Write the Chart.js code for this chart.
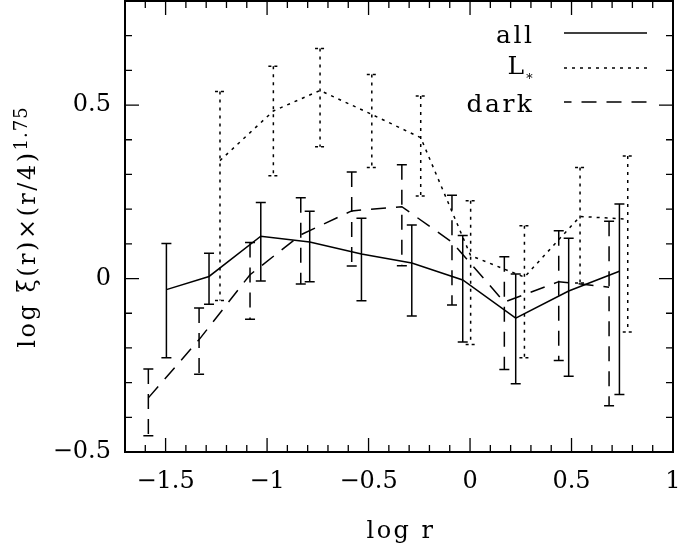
<!DOCTYPE html>
<html><head><meta charset="utf-8">
<script src="https://cdn.jsdelivr.net/npm/chart.js@4.4.1/dist/chart.umd.min.js"></script>
<style>html,body{margin:0;padding:0;background:#fff;}#wrap{width:678px;height:552px;}</style>
</head><body><div id="wrap"><canvas id="c" width="678" height="552"></canvas></div>
<script>
// ---- data ----
const seriesNames = ["all", "L∗", "dark"];

const xAll  = [-1.496, -1.286, -1.031, -0.790, -0.535, -0.287, -0.036, 0.225, 0.486, 0.736];
const yAll  = [-0.032, 0.006, 0.122, 0.105, 0.071, 0.045, -0.004, -0.114, -0.036, 0.021];
const hiAll = [0.101, 0.073, 0.219, 0.194, 0.174, 0.154, 0.124, 0.013, 0.116, 0.215];
const loAll = [-0.228, -0.074, -0.007, -0.009, -0.064, -0.108, -0.183, -0.303, -0.282, -0.334];

const xLs  = [-1.232, -0.969, -0.739, -0.484, -0.243, 0.003, 0.268, 0.542, 0.777];
const yLs  = [0.340, 0.483, 0.542, 0.473, 0.406, 0.066, 0.004, 0.179, 0.171];
const hiLs = [0.539, 0.612, 0.663, 0.588, 0.526, 0.224, 0.152, 0.320, 0.353];
const loLs = [-0.063, 0.296, 0.380, 0.320, 0.238, -0.190, -0.228, -0.013, -0.154];

const xDark  = [-1.585, -1.335, -1.084, -0.834, -0.583, -0.336, -0.089, 0.169, 0.437, 0.685];
const yDark  = [-0.344, -0.176, 0.011, 0.126, 0.195, 0.207, 0.105, -0.068, -0.009, -0.025];
const hiDark = [-0.261, -0.085, 0.104, 0.233, 0.307, 0.328, 0.240, 0.063, 0.138, 0.165];
const loDark = [-0.453, -0.276, -0.117, -0.016, 0.036, 0.037, -0.076, -0.262, -0.236, -0.367];

const xTickValues = [-1.5, -1, -0.5, 0, 0.5, 1];
const xTickLabels = ["−1.5", "−1", "−0.5", "0", "0.5", "1"];
const yTickValues = [-0.5, 0, 0.5];
const yTickLabels = ["−0.5", "0", "0.5"];
const xTitle = "log r";
const yTitleMain = "log ξ(r)×(r/4)";
const yTitleSup = "1.75";

const X_MIN = -1.7, X_MAX = 1.0, Y_MIN = -0.5, Y_MAX = 0.8;
const FONT = "'DejaVu Serif', serif";

function pts(xs, ys) { return xs.map((x, i) => ({ x: x, y: ys[i] })); }

const dashStyles = [[], [3, 5], [15, 10]];

const errorBars = {
  id: 'errorBars',
  afterDatasetsDraw(chart) {
    const ctx = chart.ctx, xs = chart.scales.x, ys = chart.scales.y;
    chart.data.datasets.forEach((ds, d) => {
      ctx.save();
      ctx.strokeStyle = '#000';
      ctx.lineWidth = 1.5;
      ds.data.forEach((p, i) => {
        const px = xs.getPixelForValue(p.x);
        const pt = ys.getPixelForValue(ds.errHi[i]);
        const pb = ys.getPixelForValue(ds.errLo[i]);
        ctx.setLineDash(ds.borderDash || []);
        ctx.beginPath();
        ctx.moveTo(px, pt); ctx.lineTo(px, pb);
        ctx.stroke();
        ctx.setLineDash(d === 1 ? [3, 3] : []);
        ctx.beginPath();
        ctx.moveTo(px - 5, pt); ctx.lineTo(px + 5, pt);
        ctx.moveTo(px - 5, pb); ctx.lineTo(px + 5, pb);
        ctx.stroke();
      });
      ctx.restore();
    });
  }
};

function setSpacing(ctx, px) { if ('letterSpacing' in ctx) ctx.letterSpacing = px + 'px'; }

const frameTicks = {
  id: 'frameTicks',
  afterDraw(chart) {
    const ctx = chart.ctx, a = chart.chartArea, xs = chart.scales.x, ys = chart.scales.y;
    ctx.save();
    ctx.strokeStyle = '#000';
    ctx.lineWidth = 2;
    ctx.strokeRect(a.left, a.top, a.right - a.left, a.bottom - a.top);
    ctx.lineWidth = 1.3;
    ctx.beginPath();
    for (let k = Math.round(X_MIN * 10); k <= Math.round(X_MAX * 10); k++) {
      const v = k / 10, px = xs.getPixelForValue(v);
      const L = (k % 5 === 0) ? 14 : 7;
      ctx.moveTo(px, a.bottom); ctx.lineTo(px, a.bottom - L);
      ctx.moveTo(px, a.top); ctx.lineTo(px, a.top + L);
    }
    for (let k = Math.round(Y_MIN * 10); k <= Math.round(Y_MAX * 10); k++) {
      const v = k / 10, py = ys.getPixelForValue(v);
      const L = (k % 5 === 0) ? 14 : 7;
      ctx.moveTo(a.left, py); ctx.lineTo(a.left + L, py);
      ctx.moveTo(a.right, py); ctx.lineTo(a.right - L, py);
    }
    ctx.stroke();

    // axis titles
    ctx.fillStyle = '#000';
    ctx.font = '24px ' + FONT;
    ctx.textAlign = 'center';
    ctx.textBaseline = 'alphabetic';
    setSpacing(ctx, 2.5);
    ctx.fillText(xTitle, (a.left + a.right) / 2 + 2, 538);

    ctx.save();
    ctx.translate(35, 227);
    ctx.rotate(-Math.PI / 2);
    ctx.font = '24px ' + FONT;
    setSpacing(ctx, 2.5);
    const w1 = ctx.measureText(yTitleMain).width;
    ctx.font = '18px ' + FONT;
    setSpacing(ctx, 1);
    const w2 = ctx.measureText(yTitleSup).width;
    const start = -(w1 + w2) / 2;
    ctx.textAlign = 'left';
    ctx.font = '24px ' + FONT;
    setSpacing(ctx, 2.5);
    ctx.fillText(yTitleMain, start, 0);
    ctx.font = '18px ' + FONT;
    setSpacing(ctx, 1);
    ctx.fillText(yTitleSup, start + w1, -8);
    ctx.restore();

    // legend
    const rows = [33, 68, 102];
    const base = [10, 6, 10];
    const sp = 2.5;
    chart.data.datasets.forEach((ds, i) => {
      const y = rows[i];
      ctx.font = '25px ' + FONT;
      ctx.textAlign = 'right';
      ctx.textBaseline = 'alphabetic';
      setSpacing(ctx, sp);
      const lbl = ds.label;
      if (lbl.endsWith('∗')) {
        ctx.fillText(lbl.slice(0, -1), 524 + sp, y + base[i]);
        ctx.font = '13px ' + FONT;
        ctx.textAlign = 'left';
        setSpacing(ctx, 0);
        ctx.fillText('∗', 525, y + base[i] + 6);
      } else {
        ctx.fillText(lbl, 532 + sp, y + base[i]);
      }
      setSpacing(ctx, 0);
      ctx.lineWidth = 1.5;
      ctx.setLineDash(ds.borderDash || []);
      ctx.lineDashOffset = (i === 2) ? 7.5 : 0;
      ctx.beginPath();
      ctx.moveTo(564, y); ctx.lineTo(647, y);
      ctx.stroke();
      ctx.setLineDash([]);
      ctx.lineDashOffset = 0;
    });
    ctx.restore();
  }
};

const datasets = [
  { label: seriesNames[0], data: pts(xAll, yAll), errHi: hiAll, errLo: loAll, borderDash: dashStyles[0] },
  { label: seriesNames[1], data: pts(xLs, yLs), errHi: hiLs, errLo: loLs, borderDash: dashStyles[1] },
  { label: seriesNames[2], data: pts(xDark, yDark), errHi: hiDark, errLo: loDark, borderDash: dashStyles[2] }
].map(d => Object.assign({
  showLine: true, borderColor: '#000', backgroundColor: '#000', borderWidth: 1.5,
  pointRadius: 0, fill: false, tension: 0
}, d));

function noPad(s) { s.paddingTop = 0; s.paddingBottom = 0; s.paddingLeft = 0; s.paddingRight = 0; }

new Chart(document.getElementById('c'), {
  type: 'scatter',
  data: { datasets: datasets },
  options: {
    responsive: false, animation: false, devicePixelRatio: 1,
    layout: { padding: { top: 1, right: 5, left: 0, bottom: 0 } },
    plugins: { legend: { display: false }, tooltip: { enabled: false } },
    scales: {
      x: {
        type: 'linear', min: X_MIN, max: X_MAX, position: 'bottom',
        grid: { display: false, drawTicks: false }, border: { display: false },
        afterBuildTicks: s => { s.ticks = xTickValues.map(v => ({ value: v })); },
        afterFit: s => { s.height = 100; noPad(s); },
        ticks: { color: '#000', font: { family: FONT, size: 24 }, padding: 15, maxRotation: 0, autoSkip: false,
          callback: (v, i) => xTickLabels[xTickValues.indexOf(v)] ?? '' }
      },
      y: {
        type: 'linear', min: Y_MIN, max: Y_MAX,
        grid: { display: false, drawTicks: false }, border: { display: false },
        afterBuildTicks: s => { s.ticks = yTickValues.map(v => ({ value: v })); },
        afterFit: s => { s.width = 125; noPad(s); },
        ticks: { color: '#000', font: { family: FONT, size: 24 }, padding: 14, autoSkip: false,
          callback: (v, i) => yTickLabels[yTickValues.indexOf(v)] ?? '' }
      }
    }
  },
  plugins: [errorBars, frameTicks]
});
</script></body></html>
